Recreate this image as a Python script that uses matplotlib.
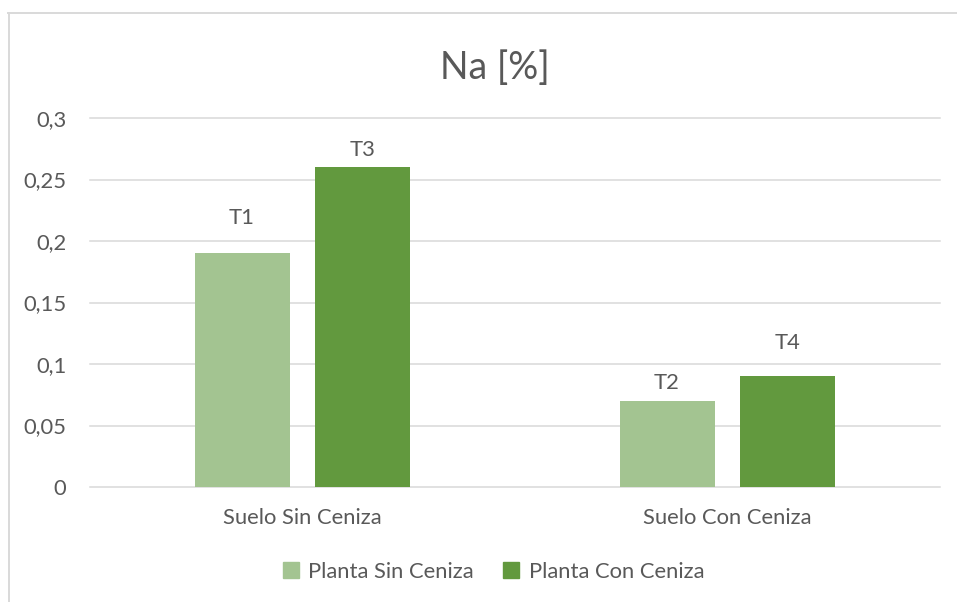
import matplotlib.pyplot as plt
import numpy as np
from matplotlib.lines import Line2D
from matplotlib.ticker import FuncFormatter

plt.rcParams['font.family'] = ['Lato', 'DejaVu Sans']

categories = ["Suelo Sin Ceniza", "Suelo Con Ceniza"]
series_names = ["Planta Sin Ceniza", "Planta Con Ceniza"]
sin_ceniza = [0.19, 0.07]
con_ceniza = [0.26, 0.09]
labels_sin = ["T1", "T2"]
labels_con = ["T3", "T4"]

colors = ["#A3C491", "#62993E"]
text_col = "#595959"
grid_col = "#D9D9D9"
fs = 15.8

W, H = 957, 602
fig = plt.figure(figsize=(W / 100, H / 100), dpi=100)
ax = fig.add_axes([90 / W, (H - 487) / H, 850 / W, 369 / H])

x = np.arange(len(categories))
bw = 0.2235
gap = 0.061
off = (bw + gap) / 2
b1 = ax.bar(x - off, sin_ceniza, bw, color=colors[0], label=series_names[0], zorder=3)
b2 = ax.bar(x + off, con_ceniza, bw, color=colors[1], label=series_names[1], zorder=3)

# label offsets above each bar (pixels)
lift_sin = [35, 18]
lift_con = [17, 33]
for bars, labs, lifts in [(b1, labels_sin, lift_sin), (b2, labels_con, lift_con)]:
    for b, lab, lift in zip(bars, labs, lifts):
        ax.annotate(lab, (b.get_x() + b.get_width() / 2, b.get_height()),
                    xytext=(0, lift * 0.72), textcoords="offset points",
                    ha="center", va="center", fontsize=fs, color=text_col)

ax.set_xlim(-0.5, 1.5)
ax.set_ylim(0, 0.3)
ax.set_yticks(np.arange(0, 0.31, 0.05))
ax.yaxis.set_major_formatter(FuncFormatter(
    lambda v, p: "0" if v == 0 else f"{v:.2f}".rstrip("0").replace(".", ",")))
ax.set_xticks(x)
ax.set_xticklabels(categories)
ax.grid(axis="y", color=grid_col, linewidth=1.1, zorder=0)
for g in ax.get_ygridlines():
    g.set_clip_on(False)
for s in ax.spines.values():
    s.set_visible(False)
ax.tick_params(axis="both", length=0, labelsize=fs, labelcolor=text_col)
ax.tick_params(axis="y", pad=17)
ax.tick_params(axis="x", pad=15)

fig.text(495 / W, 1 - 68 / H, "Na [%]", ha="center", va="center",
         fontsize=27, color=text_col)

handles = [Line2D([], [], marker="s", linestyle="", markersize=11,
                  color=c) for c in colors]
fig.legend(handles, series_names, loc="center", bbox_to_anchor=(492 / W, 1 - 572 / H),
           ncol=2, frameon=False, fontsize=fs, labelcolor=text_col,
           handletextpad=0.3, columnspacing=1.2, handlelength=1.0)

# chart area border (left and top edges)
fig.add_artist(Line2D([8.5 / W, 8.5 / W], [0, 1 - 13 / H], color=grid_col,
                      linewidth=1.4, transform=fig.transFigure))
fig.add_artist(Line2D([8 / W, 1], [1 - 13 / H, 1 - 13 / H], color=grid_col,
                      linewidth=1.4, transform=fig.transFigure))

fig.savefig("out.png", dpi=100)
